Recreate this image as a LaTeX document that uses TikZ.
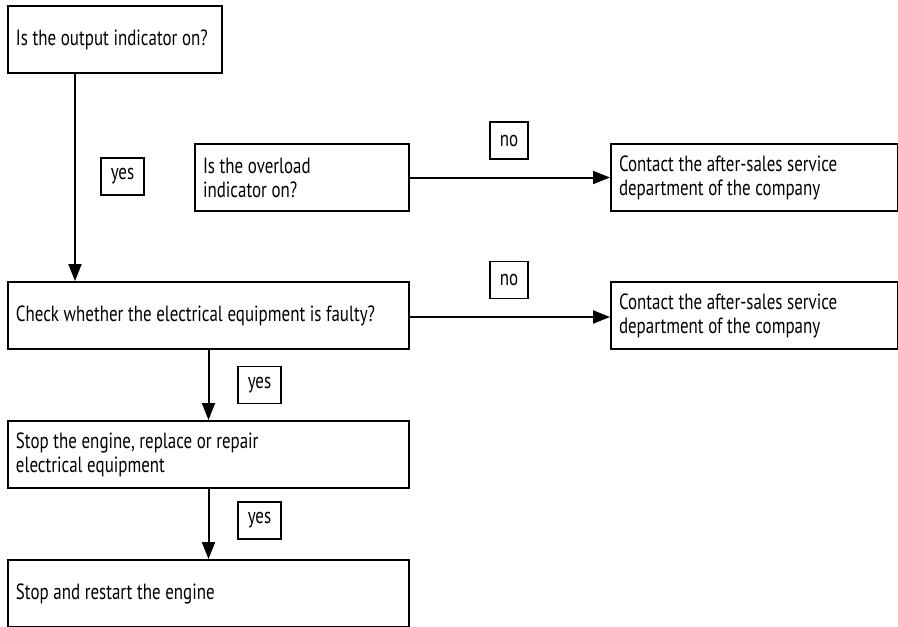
\documentclass[tikz,border=0pt]{standalone}
\usepackage{fontspec}
\setmainfont[FakeStretch=0.77]{PT Sans}
\usetikzlibrary{arrows.meta,positioning,calc}
\tikzset{
  qbox/.style={draw, line width=2pt, text width=#1, inner xsep=8pt, inner ysep=0pt, minimum height=67pt, align=left, anchor=north west, font=\fontsize{22}{24}\selectfont, execute at begin node={\spaceskip=0.21em plus 0.05em\relax}},
  tag/.style={draw, line width=1.8pt, minimum width=#1, minimum height=37pt, inner sep=0pt, font=\fontsize{22}{24}\selectfont},
  flow/.style={line width=2pt, -{Triangle[length=17pt,width=13pt]}}
}

\begin{document}
\begin{tikzpicture}[x=1pt,y=-1pt]
  \useasboundingbox (0,0) rectangle (898,627);
  % question boxes
  \node[qbox=198pt] (output) at (7,5) {Is the output indicator on?};
  \node[qbox=198pt] (overload) at (194,143) {Is the overload\\indicator on?};
  \node[qbox=271pt] (contactA) at (610,143) {Contact the after-sales service\\department of the company};
  \node[qbox=385pt] (check) at (7,281) {Check whether the electrical equipment is faulty?};
  \node[qbox=271pt] (contactB) at (610,281) {Contact the after-sales service\\department of the company};
  \node[qbox=385pt] (repair) at (7,420) {Stop the engine, replace or repair\\electrical equipment};
  \node[qbox=385pt] (restart) at (7,559) {Stop and restart the engine};
  % answer tags
  \node[tag=43pt] (yesA) at (122.5,176.5) {yes};
  \node[tag=38pt] (noA) at (509,140.5) {no};
  \node[tag=38pt] (noB) at (509,280) {no};
  \node[tag=43pt] (yesB) at (259.5,385) {yes};
  \node[tag=43pt] (yesC) at (259.5,520.5) {yes};
  % connectors
  \draw[flow] ([xshift=68pt]output.south west) -- ([xshift=68pt]check.north west);
  \draw[flow] (overload.east) -- (contactA.west);
  \draw[flow] ([yshift=-1.5pt]check.east) -- ([yshift=-1.5pt]contactB.west);
  \draw[flow] (check.south) -- (repair.north);
  \draw[flow] (repair.south) -- (restart.north);
\end{tikzpicture}
\end{document}
